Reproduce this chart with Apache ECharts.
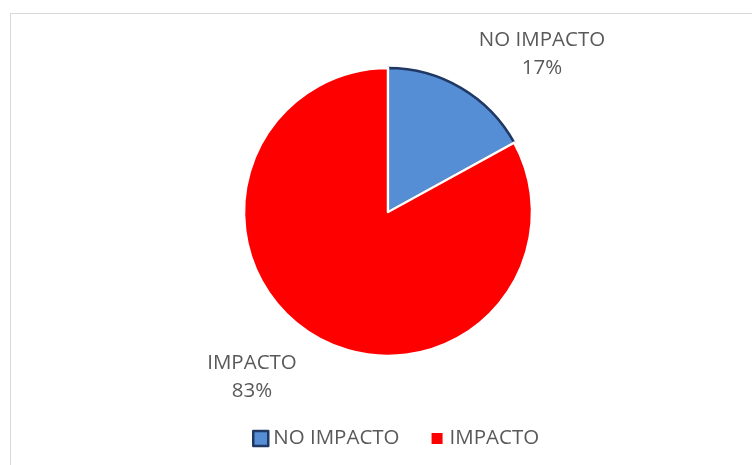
<!DOCTYPE html>
<html><head><meta charset="utf-8">
<script src="https://cdn.jsdelivr.net/npm/echarts@6/dist/echarts.min.js"></script>
<style>
html,body{margin:0;padding:0;background:#fff;}
#frame{position:absolute;left:10px;top:13px;width:760px;height:470px;border:1.5px solid #d9d9d9;box-sizing:border-box;}
#c{position:absolute;left:0;top:0;width:752px;height:465px;}
</style></head>
<body>
<div id="frame"></div>
<div id="c"></div>
<script>
const categories = ["NO IMPACTO", "IMPACTO"];
const values = [17, 83];
const colors = ["#558ED5", "#FF0000"];
const borderColors = ["#1F3864", "#FFFFFF"];
const labelPos = [[542, 54], [252, 377]];

const chart = echarts.init(document.getElementById('c'), null, {renderer:'canvas'});
chart.setOption({
  animation:false,
  legend:{
    top: 423, left: 247,
    itemWidth:15, itemHeight:15, itemGap:28,
    textStyle:{fontFamily:'Open Sans', fontSize:20.5, color:'#595959'},
    data:[
      {name:categories[0], icon:'rect', itemStyle:{color:colors[0], borderColor:'#1F3864', borderWidth:2.5}},
      {name:categories[1], icon:'rect', itemStyle:{color:colors[1], borderColor:'#FFFFFF', borderWidth:4}}
    ]
  },
  series:[{
    type:'pie',
    center:[388,212],
    radius:[0,144],
    startAngle:90,
    clockwise:true,
    data: categories.map((n,i)=>({name:n, value:values[i],
      itemStyle:{color:colors[i], borderColor:borderColors[i], borderWidth:2.5}})),
    label:{show:true, position:'outside', formatter:'{b}\n{d}%',
      fontFamily:'Open Sans', fontSize:20.5, color:'#595959', lineHeight:28, align:'center'},
    labelLine:{show:false},
    labelLayout:function(p){
      const pos = labelPos[p.dataIndex];
      return {x:pos[0], y:pos[1], align:'center', verticalAlign:'middle'};
    }
  }]
});
</script>
</body></html>
